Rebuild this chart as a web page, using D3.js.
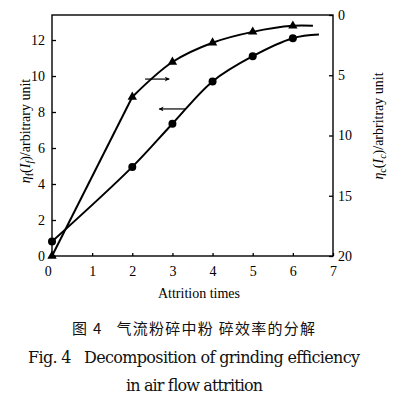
<!DOCTYPE html>
<meta charset="utf-8">
<style>
  body { margin: 0; background: #fff; }
  .tick text { font-family: "Liberation Serif", "Times New Roman", serif; font-size: 14px; fill: #000; }
  .tick line { stroke: #000; stroke-width: 1.3px; }
  .lbl { font-family: "Liberation Serif", "Times New Roman", serif; font-size: 14px; fill: #000; }
  .cap { font-family: "DejaVu Serif", "Liberation Serif", serif; fill: #111; }
  .capzh { font-family: "Noto Sans CJK SC", sans-serif; fill: #111; }
</style>
<script src="https://d3js.org/d3.v7.min.js"></script>
<div id="chart"></div>
<script>
  // attrition times of the measured points
  const times = [0, 2, 3, 4, 5, 6];
  // triangles, read on the right axis (eta_c)
  const etaC = [20, 6.8, 3.9, 2.3, 1.4, 0.9];
  const etaCEnd = [6.5, 0.9];
  // circles, read on the left axis (eta_f)
  const etaF = [0.8, 4.95, 7.35, 9.7, 11.1, 12.1];
  const etaFEnd = [6.65, 12.3];
  const xTicks = [0, 1, 2, 3, 4, 5, 6, 7];
  const leftTicks = [0, 2, 4, 6, 8, 10, 12];
  const rightTicks = [0, 5, 10, 15, 20];
  // arrows: [from time, to time, left-axis value]
  const arrows = [[2.32, 2.92, 9.83], [3.32, 2.67, 8.17]];

  const W = 399, H = 395;
  const svg = d3.select("#chart").append("svg")
      .attr("width", W).attr("height", H);

  const x = d3.scaleLinear().domain([0, 7]).range([52, 333]);
  const yL = d3.scaleLinear().domain([0, 13.39]).range([256, 15]);
  const yR = d3.scaleLinear().domain([0, 20]).range([15, 256]);
  const fmt = d3.format("d");

  svg.append("defs").append("marker")
      .attr("id", "ah").attr("viewBox", "0 0 10 10")
      .attr("refX", 9).attr("refY", 5)
      .attr("markerWidth", 7).attr("markerHeight", 5)
      .attr("markerUnits", "userSpaceOnUse")
      .attr("orient", "auto")
    .append("path").attr("d", "M0,0 L10,5 L0,10 L3,5 Z").attr("fill", "#000");

  // frame
  svg.append("rect")
      .attr("x", x(0)).attr("y", yL.range()[1])
      .attr("width", x(7) - x(0)).attr("height", yL(0) - yL.range()[1])
      .attr("fill", "none").attr("stroke", "#000").attr("stroke-width", 1.4);

  const gx = svg.append("g").attr("transform", `translate(0,${yL(0)})`)
      .call(d3.axisBottom(x).tickValues(xTicks).tickFormat(fmt).tickSize(-3).tickSizeOuter(0).tickPadding(10));
  const gl = svg.append("g").attr("transform", `translate(${x(0)},0)`)
      .call(d3.axisLeft(yL).tickValues(leftTicks).tickFormat(fmt).tickSize(-4).tickSizeOuter(0).tickPadding(7));
  const gr = svg.append("g").attr("transform", `translate(${x(7)},0)`)
      .call(d3.axisRight(yR).tickValues(rightTicks).tickFormat(fmt).tickSize(-4).tickSizeOuter(0).tickPadding(5));
  [gx, gl, gr].forEach(g => { g.select(".domain").remove(); g.attr("font-family", null).attr("font-size", null); });
  gx.selectAll(".tick").filter(d => d === 0).select("text").attr("dx", "-0.3em");

  const curve = d3.line().x(d => x(d[0])).curve(d3.curveCatmullRom.alpha(0.5));

  // triangle series (right axis): straight first segment, then smooth
  const triPts = times.map((t, i) => [t, etaC[i]]);
  const lineR = d3.line().x(d => x(d[0])).y(d => yR(d[1]));
  svg.append("path").attr("d", lineR(triPts.slice(0, 2)))
      .attr("fill", "none").attr("stroke", "#000").attr("stroke-width", 2);
  svg.append("path")
      .attr("d", curve.y(d => yR(d[1]))(triPts.slice(1).concat([etaCEnd])))
      .attr("fill", "none").attr("stroke", "#000").attr("stroke-width", 2);

  // circle series (left axis)
  const cirPts = times.map((t, i) => [t, etaF[i]]);
  svg.append("path")
      .attr("d", curve.y(d => yL(d[1]))(cirPts.concat([etaFEnd])))
      .attr("fill", "none").attr("stroke", "#000").attr("stroke-width", 2);

  svg.append("g").selectAll("path").data(triPts).join("path")
      .attr("transform", d => `translate(${x(d[0])},${yR(d[1])})`)
      .attr("d", d3.symbol(d3.symbolTriangle, 38)())
      .attr("fill", "#000");
  svg.append("g").selectAll("circle").data(cirPts).join("circle")
      .attr("cx", d => x(d[0])).attr("cy", d => yL(d[1])).attr("r", 4)
      .attr("fill", "#000");

  svg.append("g").selectAll("line").data(arrows).join("line")
      .attr("x1", d => x(d[0])).attr("x2", d => x(d[1]))
      .attr("y1", d => yL(d[2])).attr("y2", d => yL(d[2]))
      .attr("stroke", "#000").attr("stroke-width", 1.2)
      .attr("marker-end", "url(#ah)");

  // axis titles
  const tl = svg.append("text").attr("class", "lbl")
      .attr("transform", "translate(30,131) rotate(-90)").attr("text-anchor", "middle");
  tl.append("tspan").attr("font-style", "italic").text("η");
  tl.append("tspan").attr("font-size", "10px").attr("dy", 3).text("f");
  tl.append("tspan").attr("dy", -3).text("(");
  tl.append("tspan").attr("font-style", "italic").text("I");
  tl.append("tspan").attr("font-size", "10px").attr("font-style", "italic").attr("dy", 3).text("f");
  tl.append("tspan").attr("dy", -3).text(")/arbitrary unit");

  const tr = svg.append("text").attr("class", "lbl")
      .attr("transform", "translate(383,126) rotate(-90)").attr("text-anchor", "middle");
  tr.append("tspan").attr("font-style", "italic").text("η");
  tr.append("tspan").attr("font-size", "10px").attr("dy", 3).text("c");
  tr.append("tspan").attr("dy", -3).text("(");
  tr.append("tspan").attr("font-style", "italic").text("I");
  tr.append("tspan").attr("font-size", "10px").attr("font-style", "italic").attr("dy", 3).text("c");
  tr.append("tspan").attr("dy", -3).text(")/arbritray unit");

  svg.append("text").attr("class", "lbl").attr("font-size", "15px")
      .attr("x", 199).attr("y", 298).attr("text-anchor", "middle").text("Attrition times");

  // captions
  svg.append("text").attr("class", "capzh").attr("font-size", "15px")
      .attr("x", 72).attr("y", 334).attr("textLength", 243).attr("lengthAdjust", "spacing")
      .attr("xml:space", "preserve")
      .text("图 4   气流粉碎中粉 碎效率的分解");
  svg.append("text").attr("class", "cap").attr("font-size", "16px")
      .attr("x", 28).attr("y", 363).attr("textLength", 332).attr("lengthAdjust", "spacing")
      .attr("xml:space", "preserve")
      .text("Fig. 4   Decomposition of grinding efficiency");
  svg.append("text").attr("class", "cap").attr("font-size", "16px")
      .attr("x", 126).attr("y", 391).attr("textLength", 137).attr("lengthAdjust", "spacing")
      .text("in air flow attrition");
</script>
